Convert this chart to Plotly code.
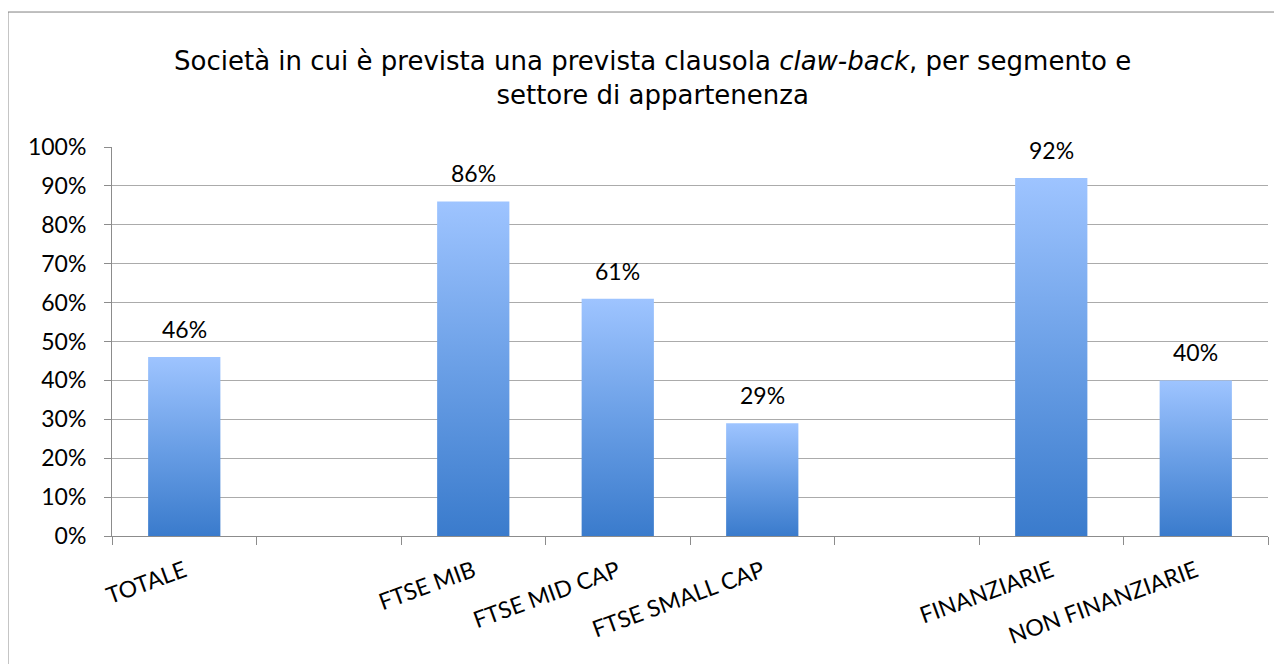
import plotly.graph_objects as go

# ---- data ----
categories = ["TOTALE", "", "FTSE MIB", "FTSE MID CAP", "FTSE SMALL CAP", " ", "FINANZIARIE", "NON FINANZIARIE"]
values = [0.46, None, 0.86, 0.61, 0.29, None, 0.92, 0.40]
labels = ["46%", "", "86%", "61%", "29%", "", "92%", "40%"]
y_ticks = [0, 0.1, 0.2, 0.3, 0.4, 0.5, 0.6, 0.7, 0.8, 0.9, 1.0]

TITLE = "Società in cui è prevista una prevista clausola <i>claw-back</i>, per segmento e<br>settore di appartenenza"

BAR_W = 0.5
TICK_FONT = "Lato, 'Open Sans', sans-serif"

fig = go.Figure()
positions = list(range(len(categories)))
for i, v in zip(positions, values):
    if v is None:
        continue
    fig.add_trace(go.Scatter(
        x=[i - BAR_W / 2, i + BAR_W / 2, i + BAR_W / 2, i - BAR_W / 2, i - BAR_W / 2],
        y=[0, 0, v, v, 0],
        mode="lines",
        line=dict(width=0, color="rgba(0,0,0,0)"),
        fill="toself",
        fillgradient=dict(type="vertical", start=0, stop=v,
                          colorscale=[[0, "#3A7BCC"], [0.5, "#6A9FE6"], [1, "#9EC4FF"]]),
        hoverinfo="skip",
        showlegend=False,
    ))

for i, v, t in zip(positions, values, labels):
    if v is None:
        continue
    fig.add_annotation(x=i, y=v, text=t, showarrow=False, yanchor="bottom", yshift=12,
                       font=dict(family=TICK_FONT, size=23, color="#000000"))

# outer frame (only top and left visible in the reference)
fig.add_shape(type="rect", xref="paper", yref="paper",
              x0=-0.09, x1=1.2, y0=-0.6, y1=1.347,
              line=dict(color="#808080", width=1), layer="below")

W, H = 1274, 656
fig.update_layout(
    width=W, height=H,
    margin=dict(l=104, r=14, t=139, b=128),
    paper_bgcolor="white", plot_bgcolor="white",
    title=dict(text=TITLE, x=0.506, xanchor="center", yref="container", y=0.905, yanchor="top",
               font=dict(family="DejaVu Sans", size=26, color="#000000")),
    showlegend=False,
)

fig.update_xaxes(
    range=[-0.5, len(categories) - 0.5],
    tickmode="array", tickvals=positions, ticktext=categories,
    tickangle=-20, ticks="", showgrid=False, zeroline=False,
    showline=True, linecolor="#8C8C8C", linewidth=1,
    tickfont=dict(family=TICK_FONT, size=23, color="#000000"),
    ticklabelstandoff=12,
    minor=dict(tickmode="array", tickvals=[p - 0.5 for p in positions] + [len(categories) - 0.5],
               ticks="outside", ticklen=8, tickcolor="#8C8C8C", showgrid=False),
    fixedrange=True,
)

fig.update_yaxes(
    range=[0, 1.0], tickmode="array", tickvals=y_ticks, tickformat=".0%",
    ticks="outside", ticklen=7, tickcolor="#8C8C8C",
    showgrid=True, gridcolor="#ABABAB", gridwidth=1, zeroline=False,
    showline=True, linecolor="#8C8C8C", linewidth=1,
    tickfont=dict(family=TICK_FONT, size=23, color="#000000"),
    ticklabelstandoff=13,
    fixedrange=True,
)

fig.write_html("out.html")
